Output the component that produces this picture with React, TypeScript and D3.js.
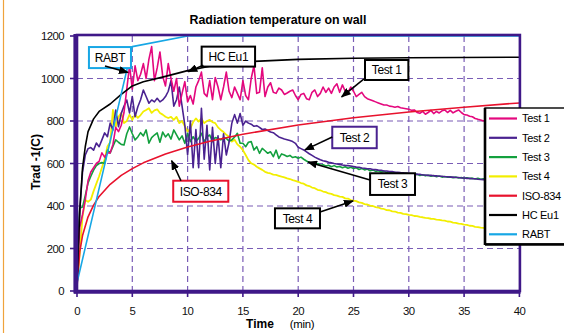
import * as d3 from "d3";

// measured series, one value every STEP minutes (0 .. 40 min)
const STEP = 0.25;

const test1 = [
  60, 300, 360, 430, 520, 560, 580, 600, 610, 650, 630, 650, 650, 690, 770, 750, 780, 840, 950, 1060,
  950, 1060, 990, 1020, 1070, 1000, 1090, 1150, 990, 1050, 1125, 1010, 965, 1070, 1000, 940, 1000, 870, 930, 985,
  890, 920, 880, 960, 990, 1030, 930, 915, 990, 900, 1005, 960, 900, 960, 1030, 940, 910, 960, 930, 900,
  990, 920, 900, 1000, 1060, 930, 935, 1050, 915, 960, 980, 935, 930, 955, 946, 925, 932, 940, 946, 920,
  900, 925, 930, 905, 900, 935, 946, 915, 930, 960, 935, 955, 930, 960, 975, 935, 970, 940, 935, 960,
  940, 915, 925, 935, 915, 905, 900, 895, 890, 885, 880, 875, 875, 870, 868, 865, 868, 862, 860, 858,
  855, 850, 852, 840, 836, 845, 832, 840, 850, 835, 845, 838, 848, 852, 840, 850, 838, 846, 852, 840,
  830, 828, 822, 820, 812, 808, 805, 800, 805, 800, 795, 800, 798, 795, 792, 790, 788, 790, 785, 785,
  780,
];

const test2 = [
  100, 380, 560, 640, 670, 675, 663, 696, 679, 711, 744, 726, 790, 758, 852, 773, 836, 870, 899, 838,
  915, 820, 867, 900, 946, 915, 884, 899, 890, 907, 890, 899, 915, 940, 990, 870, 900, 960, 870, 780,
  640, 800, 580, 760, 580, 860, 620, 780, 570, 770, 600, 730, 580, 740, 640, 700, 790, 830, 790, 835,
  780, 800, 790, 785, 775, 778, 770, 760, 762, 755, 748, 745, 735, 725, 720, 715, 712, 708, 703, 695,
  676, 670, 664, 655, 646, 638, 630, 624, 618, 613, 610, 606, 603, 600, 598, 596, 593, 591, 590, 588,
  586, 583, 582, 579, 578, 575, 575, 572, 571, 569, 568, 565, 565, 562, 562, 559, 559, 557, 556, 554,
  554, 551, 551, 549, 549, 546, 546, 544, 544, 542, 542, 540, 540, 538, 538, 536, 536, 534, 534, 532,
  532, 530, 530, 528, 528, 526, 525, 524, 523, 522, 521, 520, 519, 518, 517, 516, 515, 514, 513, 512,
  511,
];

const test3 = [
  150, 390, 395, 450, 508, 540, 569, 590, 600, 605, 600, 663, 650, 680, 711, 700, 690, 687, 740, 772,
  740, 711, 725, 745, 730, 758, 696, 722, 734, 744, 700, 748, 725, 740, 715, 758, 735, 711, 730, 695,
  742, 703, 726, 705, 718, 742, 703, 725, 734, 703, 722, 718, 711, 720, 718, 705, 711, 725, 742, 695,
  695, 679, 700, 703, 663, 679, 648, 671, 660, 648, 655, 632, 663, 624, 645, 640, 633, 638, 628, 632,
  625, 630, 620, 612, 605, 598, 596, 600, 592, 594, 588, 592, 585, 590, 584, 586, 580, 585, 578, 582,
  576, 580, 572, 576, 570, 574, 566, 570, 563, 566, 560, 563, 558, 561, 555, 558, 553, 556, 551, 554,
  549, 552, 546, 550, 544, 547, 542, 545, 540, 543, 538, 541, 536, 539, 535, 537, 533, 536, 532, 534,
  530, 533, 529, 531, 527, 530, 526, 528, 524, 527, 523, 525, 522, 524, 520, 522, 519, 521, 518, 520,
  517,
];

const test4 = [
  40, 180, 350, 428, 420, 430, 470, 505, 540, 580, 620, 680, 700, 852, 772, 820, 838, 790, 800, 830,
  805, 830, 815, 828, 845, 852, 860, 838, 850, 855, 838, 830, 820, 814, 819, 805, 819, 790, 800, 775,
  750, 765, 795, 812, 797, 812, 790, 800, 805, 795, 790, 770, 758, 748, 735, 726, 703, 712, 690, 679,
  663, 640, 616, 601, 595, 585, 577, 570, 561, 556, 553, 548, 546, 542, 538, 535, 530, 527, 522, 518,
  514, 508, 505, 497, 494, 487, 484, 476, 474, 468, 465, 459, 457, 451, 449, 444, 443, 436, 435, 428,
  425, 423, 417, 415, 409, 407, 402, 400, 395, 393, 388, 386, 381, 380, 375, 374, 369, 368, 363, 362,
  358, 357, 353, 352, 349, 347, 344, 343, 340, 339, 336, 335, 332, 331, 327, 326, 322, 321, 317, 316,
  312, 311, 307, 306, 302, 301, 298, 297, 294, 293, 290, 289, 286, 285, 282, 281, 278, 277, 274, 273,
  270,
];

// standard fire curves as [min, °C]
const iso834 = [
  [0, 20], [0.25, 185], [0.5, 261], [1, 349], [1.5, 404], [2, 445], [3, 502], [4, 544], [5, 576],
  [6, 603], [8, 645], [10, 678], [12, 705], [15, 738], [20, 781], [25, 815], [30, 842], [35, 865], [40, 885],
];
const hcEu1 = [
  [0, 20], [0.25, 380], [0.5, 580], [0.75, 680], [1, 750], [1.5, 810], [2, 845], [3, 880], [4, 925],
  [5, 965], [6, 985], [8, 1010], [10, 1037], [12, 1058], [15, 1078], [20, 1090], [25, 1095], [30, 1098], [40, 1100],
];
const rabt = [[0, 38], [5, 1150], [10, 1200], [40, 1200]];

const seriesNames = ["Test 1", "Test 2", "Test 3", "Test 4", "ISO-834", "HC Eu1", "RABT"];
const seriesColors = ["#e4087e", "#4a2290", "#13a03e", "#f2ee00", "#e8122d", "#000000", "#17a7e5"];

const xTicks = [0, 5, 10, 15, 20, 25, 30, 35, 40];
const yTicks = [0, 200, 400, 600, 800, 1000, 1200];

// callout boxes: box corners and arrow in data units (min, °C)
const callouts = [
  { label: "RABT", color: "#17a7e5", box: [1.08, 1148, 4.88, 1049], from: [2.53, 1059], tip: [4.61, 1028] },
  { label: "HC Eu1", color: "#000", box: [11.27, 1150, 16.1, 1056], from: [11.42, 1063], tip: [10.06, 1032] },
  { label: "Test 1", color: "#000", box: [26.04, 1087, 29.96, 993], from: [26.04, 1002], tip: [23.93, 914] },
  { label: "Test 2", color: "#4a2290", box: [23.08, 773, 27.1, 672], from: [23.08, 725], tip: [20.61, 664] },
  { label: "Test 3", color: "#000", box: [26.5, 554, 30.56, 452], from: [26.5, 522], tip: [20.89, 607] },
  { label: "Test 4", color: "#000", box: [17.9, 389, 21.97, 295], from: [21.97, 372], tip: [24.95, 424] },
  { label: "ISO-834", color: "#e8122d", box: [8.7, 519, 13.68, 420], from: [9.4, 519], tip: [8.56, 613] },
];

const W = 564;
const H = 333;
const FRAME = "#3f1888";
const GRID = "#7a5db6";
const FONT = "'Liberation Sans', Arial, sans-serif";

export default function App() {
  const x = d3.scaleLinear().domain([0, 40]).range([77, 519.4]);
  const y = d3.scaleLinear().domain([0, 1200]).range([291, 36]);

  const line = d3.line<number[]>().x(d => x(d[0])).y(d => y(d[1]));
  const sampled = (vals: number[]) => vals.map((v, i) => [i * STEP, v]);

  const curves = [
    sampled(test1), sampled(test2), sampled(test3), sampled(test4), iso834, hcEu1, rabt,
  ];
  // draw order: measured first, standard curves on top
  const order = [3, 2, 1, 0, 4, 5, 6];

  const [x0, x1] = x.range();
  const [y0, y1] = y.range();

  const legendX = 485;
  const legendY = 108;
  const rowH = 19.3;

  return (
    <svg width={W} height={H} style={{ position: "absolute", left: 0, top: 0, background: "#fff" }} fontFamily={FONT}>
      <defs>
        <clipPath id="plot">
          <rect x={x0} y={y1} width={x1 - x0} height={y0 - y1} />
        </clipPath>
        <marker id="arrow" viewBox="0 0 10 8" refX="9" refY="4" markerWidth="10" markerHeight="8"
          markerUnits="userSpaceOnUse" orient="auto">
          <path d="M0,0 L10,4 L0,8 z" fill="#000" />
        </marker>
      </defs>

      <line x1={3.5} x2={3.5} y1={0} y2={H} stroke="#efa33c" strokeWidth={1.2} />

      <text x={278} y={24} textAnchor="middle" fontSize={12.4} fontWeight="bold">
        Radiation temperature on wall
      </text>

      {/* grid */}
      <g stroke={GRID} strokeWidth={1.2} strokeDasharray="6,4">
        {yTicks.slice(1, -1).map(t => (
          <line key={"gy" + t} x1={x0} x2={x1} y1={y(t)} y2={y(t)} />
        ))}
        {xTicks.slice(1, -1).map(t => (
          <line key={"gx" + t} x1={x(t)} x2={x(t)} y1={y1} y2={y0} />
        ))}
      </g>

      {/* series */}
      <g clipPath="url(#plot)" fill="none" strokeLinejoin="round">
        {order.map(i => (
          <path key={seriesNames[i]} d={line(curves[i] as number[][]) ?? ""} stroke={seriesColors[i]}
            strokeWidth={i === 3 ? 1.8 : 1.6} />
        ))}
      </g>

      {/* frame */}
      <rect x={x0} y={y1 - 1} width={x1 - x0 + 0.5} height={y0 - y1 + 1} fill="none" stroke={FRAME} strokeWidth={2.6} />
      <line x1={x0 - 1.5} x2={x0 - 1.5} y1={y1 - 2} y2={y0 + 2.5} stroke={FRAME} strokeWidth={4.2} />
      <line x1={x0 - 3} x2={x1 + 1.2} y1={y0 + 1} y2={y0 + 1} stroke={FRAME} strokeWidth={3.4} />

      {/* ticks and labels */}
      <g stroke={FRAME} strokeWidth={1.6}>
        {yTicks.map(t => (
          <line key={"ty" + t} x1={x0 - 7} x2={x0 - 3} y1={y(t)} y2={y(t)} />
        ))}
        {xTicks.map(t => (
          <line key={"tx" + t} x1={x(t)} x2={x(t)} y1={y0 + 2} y2={y0 + 6} />
        ))}
      </g>
      <g fontSize={11.4} letterSpacing={-0.6} fill="#111">
        {yTicks.map(t => (
          <text key={"ly" + t} x={64} y={y(t)} dy="0.36em" textAnchor="end">{t}</text>
        ))}
        {xTicks.map(t => (
          <text key={"lx" + t} x={x(t)} y={315} textAnchor="middle">{t}</text>
        ))}
      </g>
      <text transform="translate(40,162) rotate(-90)" textAnchor="middle" fontSize={12} fontWeight="bold">
        Trad -1(C)
      </text>
      <text x={260} y={328} textAnchor="middle" fontSize={12} fontWeight="bold">Time</text>
      <text x={302} y={328} textAnchor="middle" fontSize={11.4} letterSpacing={-0.3}>(min)</text>

      {/* callouts */}
      {callouts.map(c => {
        const bx = x(c.box[0]);
        const by = y(c.box[1]);
        const bw = x(c.box[2]) - bx;
        const bh = y(c.box[3]) - by;
        return (
          <g key={c.label}>
            <rect x={bx} y={by} width={bw} height={bh} fill="#fff" stroke={c.color} strokeWidth={2} />
            <text x={bx + bw / 2} y={by + bh / 2} dy="0.36em" textAnchor="middle" fontSize={12}
              letterSpacing={-0.4}>{c.label}</text>
            <line x1={x(c.from[0])} y1={y(c.from[1])} x2={x(c.tip[0])} y2={y(c.tip[1])}
              stroke="#000" strokeWidth={1.6} markerEnd="url(#arrow)" />
          </g>
        );
      })}

      {/* legend */}
      <rect x={legendX} y={legendY} width={W - legendX + 4} height={136} fill="#fff" stroke="#000" strokeWidth={1.4} />
      <line x1={legendX} x2={legendX} y1={legendY} y2={legendY + 137} stroke="#000" strokeWidth={2.6} />
      <line x1={legendX} x2={W} y1={legendY + 136.5} y2={legendY + 136.5} stroke="#000" strokeWidth={2.4} />
      {seriesNames.map((name, i) => {
        const ry = legendY + 10.5 + i * rowH;
        return (
          <g key={"lg" + name}>
            <line x1={489} x2={517} y1={ry} y2={ry} stroke={seriesColors[i]} strokeWidth={2.2} />
            <text x={522} y={ry} dy="0.36em" fontSize={11} letterSpacing={-0.3}>{name}</text>
          </g>
        );
      })}
    </svg>
  );
}
